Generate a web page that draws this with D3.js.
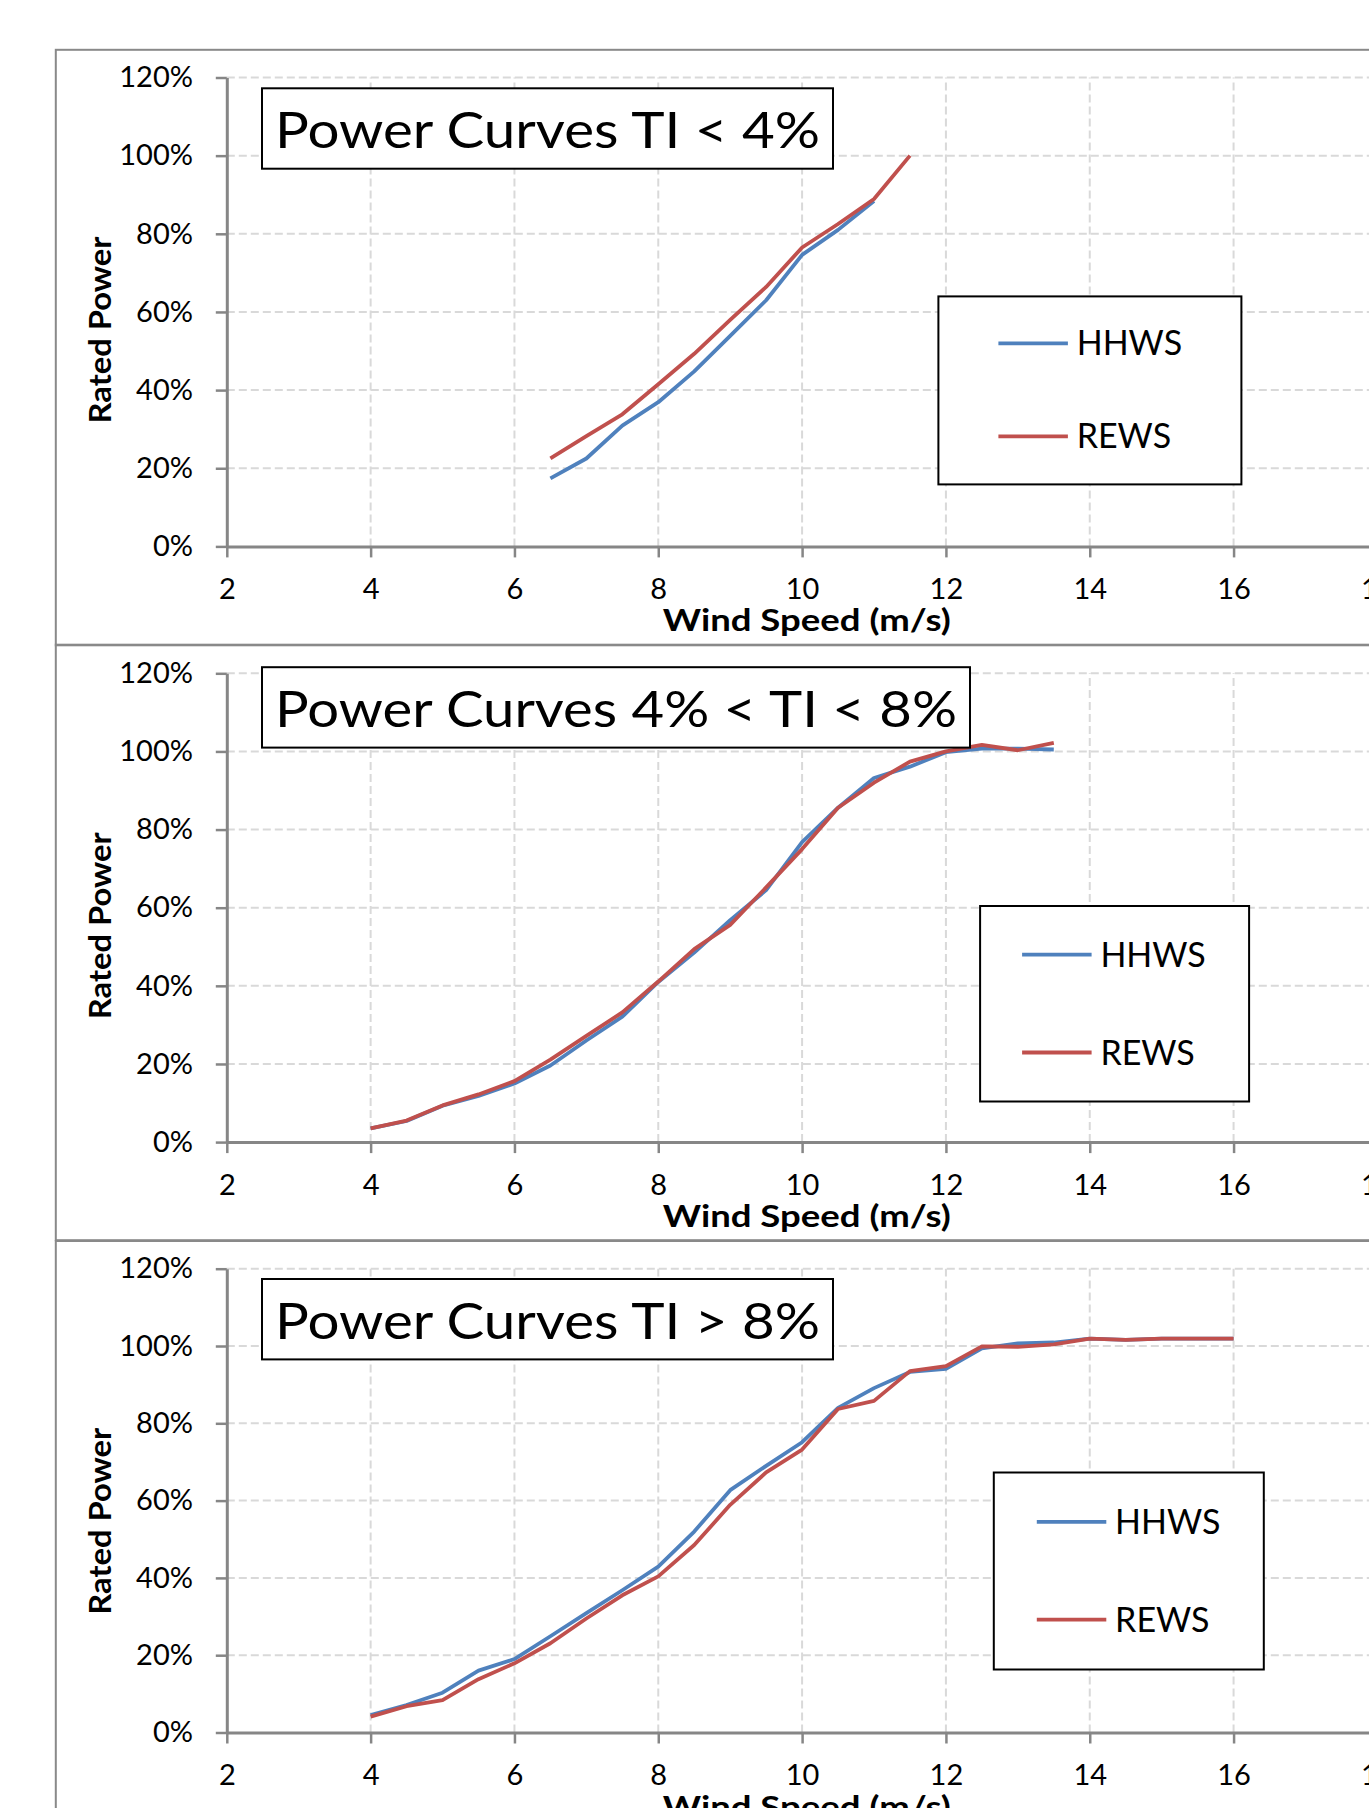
<!DOCTYPE html>
<html>
<head>
<meta charset="utf-8">
<script src="https://cdn.jsdelivr.net/npm/d3@7"></script>
<style>
  body { margin: 0; background: #fff; }
  svg { display: block; }
  text { font-family: Lato, "Open Sans", sans-serif; fill: #000; }
</style>
</head>
<body>
<svg id="chart" width="1369" height="1808"></svg>
<script>
// ---- data ----
const xTicks = [2, 4, 6, 8, 10, 12, 14, 16, 18];
const yTicks = [0, 20, 40, 60, 80, 100, 120];
const titles = ["Power Curves TI < 4%", "Power Curves 4% < TI < 8%", "Power Curves TI > 8%"];
const seriesNames = ["HHWS", "REWS"];
const seriesColors = ["#4F81BD", "#C0504D"];

// TI < 4%
const speedLow = [6.5, 7, 7.5, 8, 8.5, 9, 9.5, 10, 10.5, 11, 11.5];
const hhwsLow = [17.4, 22.5, 30.9, 36.9, 44.8, 53.9, 63.0, 74.6, 81.0, 88.4];
const rewsLow = [22.5, 28.2, 33.8, 41.5, 49.3, 58.0, 66.4, 76.5, 82.5, 88.9, 100.0];

// 4% < TI < 8%
const speedMid = [4, 4.5, 5, 5.5, 6, 6.5, 7, 7.5, 8, 8.5, 9, 9.5, 10, 10.5, 11, 11.5, 12, 12.5, 13, 13.5];
const hhwsMid = [3.5, 5.4, 9.3, 11.8, 15.0, 19.6, 26.0, 32.1, 41.0, 48.5, 56.8, 64.5, 76.8, 85.6, 93.2, 96.1, 99.8, 100.7, 100.7, 100.5];
const rewsMid = [3.5, 5.5, 9.4, 12.2, 15.6, 21.1, 27.2, 33.2, 41.1, 49.4, 55.6, 65.2, 75.0, 85.6, 92.0, 97.4, 100.0, 101.7, 100.3, 102.2];

// TI > 8%
const speedHigh = [4, 4.5, 5, 5.5, 6, 6.5, 7, 7.5, 8, 8.5, 9, 9.5, 10, 10.5, 11, 11.5, 12, 12.5, 13, 13.5, 14, 14.5, 15, 15.5, 16];
const hhwsHigh = [4.5, 7.1, 10.3, 16.0, 19.0, 24.9, 30.9, 36.8, 42.9, 52.0, 62.7, 69.0, 75.1, 84.0, 89.1, 93.3, 94.1, 99.4, 100.7, 100.9, 101.9, 101.6, 101.9, 101.9, 101.9];
const rewsHigh = [4.1, 6.8, 8.4, 13.8, 17.9, 23.1, 29.5, 35.5, 40.4, 48.5, 58.9, 67.3, 73.2, 83.7, 85.8, 93.5, 94.8, 99.9, 99.8, 100.4, 101.9, 101.6, 101.9, 101.9, 101.9];

const speeds = [speedLow, speedMid, speedHigh];
const hhws = [hhwsLow, hhwsMid, hhwsHigh];
const rews = [rewsLow, rewsMid, rewsHigh];

// ---- layout of the three stacked panels ----
const layout = [
  { frameTop: 49.8, top: 77.5, bottom: 546.4, titleY: 88.3, titleW: 545, leg: [938.4, 296.4, 303, 188], legPad: 60, rows: [47, 140] },
  { frameTop: 644.7, top: 673.3, bottom: 1142.1, titleY: 667.2, titleW: 682, leg: [980.1, 906, 269, 195.5], legPad: 42, rows: [48.6, 146.5] },
  { frameTop: 1241, top: 1268.7, bottom: 1732.5, titleY: 1279, titleW: 545, leg: [993.8, 1472.5, 270, 197], legPad: 43, rows: [49.4, 147.1] }
];

const svg = d3.select("#chart");
const axisColor = "#868686";
const gridColor = "#d9d9d9";

const x = d3.scaleLinear().domain([2, 18]).range([226.8, 1377.4]);

layout.forEach((L, i) => {
  const g = svg.append("g");

  // chart frame
  g.append("rect")
    .attr("x", 55.8).attr("y", L.frameTop)
    .attr("width", 1500).attr("height", 595.5)
    .attr("fill", "none").attr("stroke", "#898989").attr("stroke-width", 2);

  const y = d3.scaleLinear().domain([0, 120]).range([L.bottom, L.top]);

  // grid
  g.append("g").selectAll("line").data(yTicks.slice(1)).join("line")
    .attr("x1", x(2)).attr("x2", x(18) + 20)
    .attr("y1", d => y(d)).attr("y2", d => y(d))
    .attr("stroke", gridColor).attr("stroke-width", 2).attr("stroke-dasharray", "8,4");
  g.append("g").selectAll("line").data(xTicks.slice(1)).join("line")
    .attr("x1", d => x(d)).attr("x2", d => x(d))
    .attr("y1", y(0)).attr("y2", y(120))
    .attr("stroke", gridColor).attr("stroke-width", 2).attr("stroke-dasharray", "8,4");

  // axes
  const xAxis = g.append("g")
    .attr("transform", `translate(0,${L.bottom})`)
    .call(d3.axisBottom(x).tickValues(xTicks).tickSize(11).tickSizeOuter(0).tickPadding(21).tickFormat(d3.format("d")));
  const yAxis = g.append("g")
    .attr("transform", `translate(${x(2)},0)`)
    .call(d3.axisLeft(y).tickValues(yTicks).tickSize(11).tickSizeOuter(0).tickPadding(22.8).tickFormat(d => d + "%"));
  [xAxis, yAxis].forEach(a => {
    a.select(".domain").attr("stroke", axisColor).attr("stroke-width", 3);
    a.selectAll(".tick line").attr("stroke", axisColor).attr("stroke-width", 2.5);
    a.selectAll(".tick text").attr("font-size", 29).attr("font-family", "Lato, sans-serif").attr("fill", "#000");
  });

  // axis titles
  g.append("text")
    .attr("x", 806.7).attr("y", L.bottom + 85)
    .attr("text-anchor", "middle").attr("font-size", 31).attr("font-weight", "bold")
    .attr("textLength", 288).attr("lengthAdjust", "spacingAndGlyphs")
    .text("Wind Speed (m/s)");
  g.append("text")
    .attr("transform", `translate(110.5,${L.top + 252.5}) rotate(-90)`)
    .attr("text-anchor", "middle").attr("font-size", 31).attr("font-weight", "bold")
    .attr("textLength", 187).attr("lengthAdjust", "spacingAndGlyphs")
    .text("Rated Power");

  // series lines
  const line = d3.line().x(d => x(d[0])).y(d => y(d[1]));
  [hhws[i], rews[i]].forEach((vals, k) => {
    g.append("path")
      .datum(vals.map((v, j) => [speeds[i][j], v]))
      .attr("d", line)
      .attr("fill", "none")
      .attr("stroke", seriesColors[k])
      .attr("stroke-width", 3.8)
      .attr("stroke-linejoin", "round");
  });

  // title box
  const tg = g.append("g");
  tg.append("rect")
    .attr("x", 262).attr("y", L.titleY).attr("height", 80.4)
    .attr("width", L.titleW + 26)
    .attr("fill", "#fff").attr("stroke", "#000").attr("stroke-width", 2);
  tg.append("text")
    .attr("x", 275).attr("y", L.titleY + 60)
    .attr("font-size", 51)
    .attr("textLength", L.titleW).attr("lengthAdjust", "spacingAndGlyphs")
    .text(titles[i]);

  // legend
  const [lx, ly, lw, lh] = L.leg;
  const lg = g.append("g");
  lg.append("rect")
    .attr("x", lx).attr("y", ly).attr("width", lw).attr("height", lh)
    .attr("fill", "#fff").attr("stroke", "#000").attr("stroke-width", 2);
  seriesNames.forEach((name, k) => {
    const ry = ly + L.rows[k];
    lg.append("line")
      .attr("x1", lx + L.legPad).attr("x2", lx + L.legPad + 69.5)
      .attr("y1", ry).attr("y2", ry)
      .attr("stroke", seriesColors[k]).attr("stroke-width", 3.8);
    lg.append("text")
      .attr("x", lx + L.legPad + 78.3).attr("y", ry + 12)
      .attr("font-size", 34)
      .text(name);
  });
});
</script>
</body>
</html>
